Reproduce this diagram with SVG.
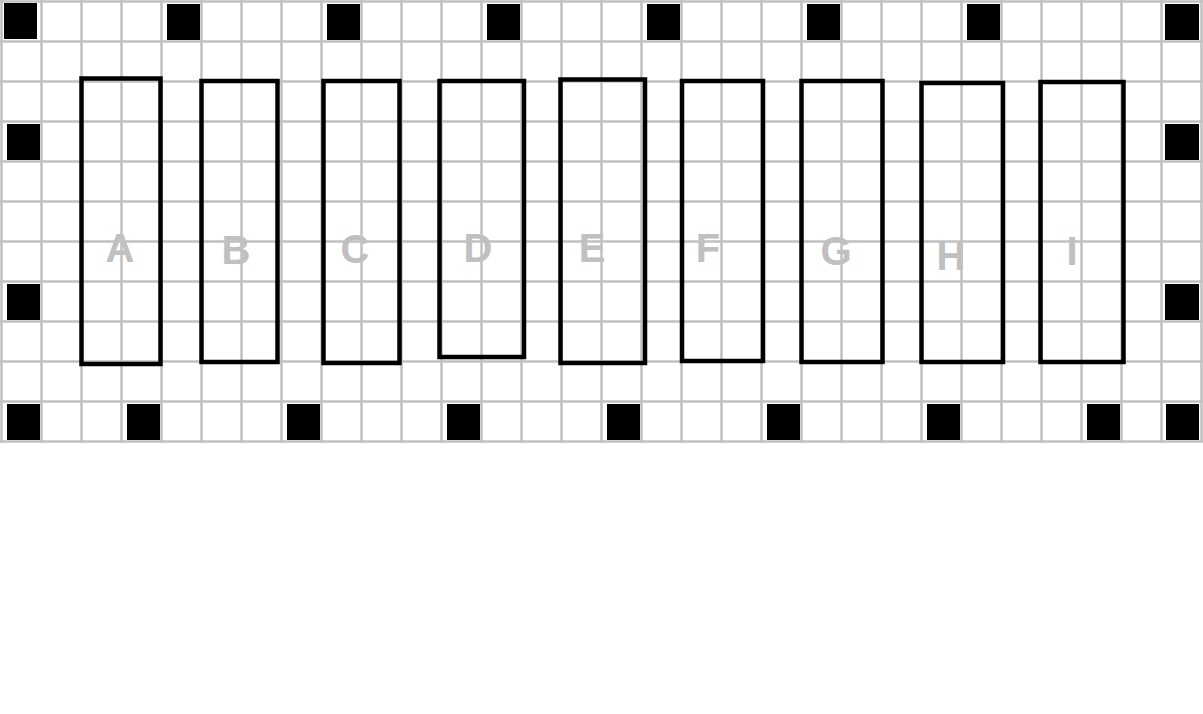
<svg xmlns="http://www.w3.org/2000/svg" width="1203" height="714" viewBox="0 0 1203 714">
<defs>
<style>
.grid line{stroke:#c0c0c0;stroke-width:2.5}
.sq{fill:#000}
.node rect{fill:none;stroke:#000;stroke-width:4.5}
.node text{font-family:"Liberation Sans",Arial,sans-serif;font-weight:bold;font-size:40px;fill:#c0c0c0;text-anchor:middle}
</style>
</defs>
<rect width="1203" height="714" fill="#fff"/>
<g class="grid">
<line x1="1.5" y1="0" x2="1.5" y2="442"/><line x1="41.5" y1="0" x2="41.5" y2="442"/><line x1="81.5" y1="0" x2="81.5" y2="442"/><line x1="121.5" y1="0" x2="121.5" y2="442"/><line x1="161.5" y1="0" x2="161.5" y2="442"/><line x1="201.5" y1="0" x2="201.5" y2="442"/><line x1="241.5" y1="0" x2="241.5" y2="442"/><line x1="281.5" y1="0" x2="281.5" y2="442"/><line x1="321.5" y1="0" x2="321.5" y2="442"/><line x1="361.5" y1="0" x2="361.5" y2="442"/><line x1="401.5" y1="0" x2="401.5" y2="442"/><line x1="441.5" y1="0" x2="441.5" y2="442"/><line x1="481.5" y1="0" x2="481.5" y2="442"/><line x1="521.5" y1="0" x2="521.5" y2="442"/><line x1="561.5" y1="0" x2="561.5" y2="442"/><line x1="601.5" y1="0" x2="601.5" y2="442"/><line x1="641.5" y1="0" x2="641.5" y2="442"/><line x1="681.5" y1="0" x2="681.5" y2="442"/><line x1="721.5" y1="0" x2="721.5" y2="442"/><line x1="761.5" y1="0" x2="761.5" y2="442"/><line x1="801.5" y1="0" x2="801.5" y2="442"/><line x1="841.5" y1="0" x2="841.5" y2="442"/><line x1="881.5" y1="0" x2="881.5" y2="442"/><line x1="921.5" y1="0" x2="921.5" y2="442"/><line x1="961.5" y1="0" x2="961.5" y2="442"/><line x1="1001.5" y1="0" x2="1001.5" y2="442"/><line x1="1041.5" y1="0" x2="1041.5" y2="442"/><line x1="1081.5" y1="0" x2="1081.5" y2="442"/><line x1="1121.5" y1="0" x2="1121.5" y2="442"/><line x1="1161.5" y1="0" x2="1161.5" y2="442"/><line x1="1201.5" y1="0" x2="1201.5" y2="442"/>
<line x1="0" y1="1.5" x2="1203" y2="1.5"/><line x1="0" y1="41.5" x2="1203" y2="41.5"/><line x1="0" y1="81.5" x2="1203" y2="81.5"/><line x1="0" y1="121.5" x2="1203" y2="121.5"/><line x1="0" y1="161.5" x2="1203" y2="161.5"/><line x1="0" y1="201.5" x2="1203" y2="201.5"/><line x1="0" y1="241.5" x2="1203" y2="241.5"/><line x1="0" y1="281.5" x2="1203" y2="281.5"/><line x1="0" y1="321.5" x2="1203" y2="321.5"/><line x1="0" y1="361.5" x2="1203" y2="361.5"/><line x1="0" y1="401.5" x2="1203" y2="401.5"/><line x1="0" y1="441.5" x2="1203" y2="441.5"/>
</g>
<g id="markers">
<rect class="sq" x="4" y="3" width="33" height="36"/>
<rect class="sq" x="167" y="4" width="33" height="36"/>
<rect class="sq" x="327" y="4" width="33" height="36"/>
<rect class="sq" x="487" y="4" width="33" height="36"/>
<rect class="sq" x="647" y="4" width="33" height="36"/>
<rect class="sq" x="807" y="4" width="33" height="36"/>
<rect class="sq" x="967" y="4" width="33" height="36"/>
<rect class="sq" x="1165" y="4" width="34" height="36"/>
<rect class="sq" x="7" y="124" width="33" height="36"/>
<rect class="sq" x="7" y="284" width="33" height="36"/>
<rect class="sq" x="1165" y="124" width="34" height="36"/>
<rect class="sq" x="1165" y="284" width="34" height="36"/>
<rect class="sq" x="7" y="404" width="33" height="36"/>
<rect class="sq" x="127" y="404" width="33" height="36"/>
<rect class="sq" x="287" y="404" width="33" height="36"/>
<rect class="sq" x="447" y="404" width="33" height="36"/>
<rect class="sq" x="607" y="404" width="33" height="36"/>
<rect class="sq" x="767" y="404" width="33" height="36"/>
<rect class="sq" x="927" y="404" width="33" height="36"/>
<rect class="sq" x="1087" y="404" width="33" height="36"/>
<rect class="sq" x="1166" y="404" width="33" height="36"/>
</g>
<g id="connectors"></g>
<g id="node-A" class="node"><rect x="81.5" y="78.5" width="79" height="285.5"/><text x="120" y="262">A</text></g>
<g id="node-B" class="node"><rect x="201.5" y="81" width="76" height="281"/><text x="236" y="264">B</text></g>
<g id="node-C" class="node"><rect x="323.5" y="81" width="76" height="282"/><text x="355" y="263">C</text></g>
<g id="node-D" class="node"><rect x="439.5" y="81" width="84.5" height="276"/><text x="478" y="262">D</text></g>
<g id="node-E" class="node"><rect x="560.5" y="79.5" width="84.5" height="283.5"/><text x="592" y="262">E</text></g>
<g id="node-F" class="node"><rect x="682" y="81" width="81" height="280"/><text x="708" y="262">F</text></g>
<g id="node-G" class="node"><rect x="801.5" y="81" width="81" height="281"/><text x="836" y="265">G</text></g>
<g id="node-H" class="node"><rect x="921.5" y="83" width="81.5" height="279"/><text x="951" y="270">H</text></g>
<g id="node-I" class="node"><rect x="1040.5" y="82" width="83" height="280"/><text x="1072" y="265">I</text></g>
</svg>
